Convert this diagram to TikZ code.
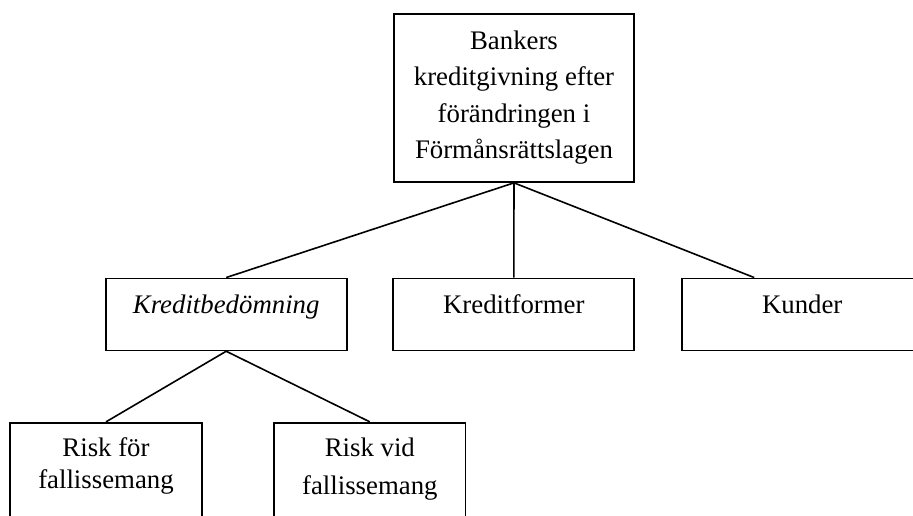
\documentclass[tikz,border=0pt]{standalone}
\usepackage{fontspec}
\setmainfont{Liberation Serif}
\begin{document}
\begin{tikzpicture}[x=1pt,y=-1pt,
  box/.style={draw, line width=1.7pt, inner sep=0pt, rectangle},
  lbl/.style={anchor=north, inner sep=0pt, align=center, font=\fontsize{26.8}{36.2}\selectfont},
  link/.style={line width=1.6pt}
]
\clip (0,0) rectangle (913,516);
\fill[white] (0,0) rectangle (913,516);

% boxes
\node[box, minimum width=240pt, minimum height=168pt] (top) at (514,98) {};
\node[box, minimum width=241pt, minimum height=72pt] (kb) at (226.2,314.4) {};
\node[box, minimum width=241pt, minimum height=72pt] (kf) at (513.8,314.4) {};
\node[box, minimum width=241pt, minimum height=72pt] (ku) at (802.2,314.4) {};
\node[box, minimum width=192pt, minimum height=110pt] (rf) at (106,477.7) {};
\node[box, minimum width=191.5pt, minimum height=110pt] (rv) at (369.8,477.7) {};

% texts
\node[lbl] (toptxt) at ([yshift=-17.7pt]top.north) {Bankers\\kreditgivning efter\\förändringen i\\Förmånsrättslagen};
\node[lbl] (kbtxt) at ([yshift=-16.7pt]kb.north) {\itshape Kreditbedömning};
\node[lbl] (kftxt) at ([yshift=-16.7pt]kf.north) {Kreditformer};
\node[lbl] (kutxt) at ([yshift=-16.7pt]ku.north) {Kunder};
\node[lbl, font=\fontsize{26.8}{31.6}\selectfont] (rftxt) at ([yshift=-15.7pt]rf.north) {Risk för\\fallissemang};
\node[lbl, font=\fontsize{26.8}{38.3}\selectfont] (rvtxt) at ([yshift=-15.7pt]rv.north) {Risk vid\\fallissemang};

% connectors
\draw[link] (top.south) -- (kb.north);
\draw[link] (top.south) -- (kf.north);
\draw[link] (top.south) -- ([xshift=-48pt]ku.north);
\draw[link] (kb.south) -- (rf.north);
\draw[link] (kb.south) -- (rv.north);
\end{tikzpicture}
\end{document}
